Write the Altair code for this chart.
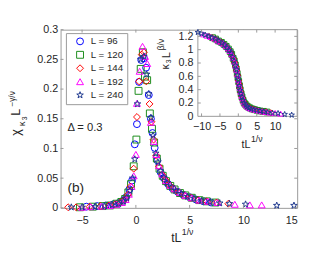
import altair as alt
import pandas as pd

labels = ["L = 96", "L = 120", "L = 144", "L = 192", "L = 240"]
colors = ["#0000ff", "#1a8c1a", "#ff0000", "#ff00ff", "#203a8f"]
STAR = ("M0,-1L0.235,-0.324L0.951,-0.309L0.38,0.124L0.588,0.809L0,0.4"
        "L-0.588,0.809L-0.38,0.124L-0.951,-0.309L-0.235,-0.324Z")
shapes = ["circle", "square", "diamond", "triangle-up", STAR]

# ---- main panel: chi_kappa3 L^(-gamma/nu) vs t L^(1/nu)
main_x_96 = [-4.6, -3.6, -2.8, -2.1, -1.6, -1.2, -0.9, -0.6, -0.35, -0.1, 0.1, 0.3, 0.5, 0.75, 0.95,
             1.2, 1.4, 1.55, 1.75, 2.0, 2.3, 2.6, 3.0, 3.4, 3.9, 4.4, 5.0, 5.6, 6.3, 7.0]
main_y_96 = [0.002, 0.003, 0.004, 0.006, 0.008, 0.012, 0.018, 0.031, 0.046, 0.107, 0.141, 0.212, 0.249,
             0.252, 0.236, 0.19, 0.15, 0.126, 0.101, 0.08, 0.06, 0.05, 0.04, 0.033, 0.027, 0.022, 0.018,
             0.014, 0.011, 0.009]
main_x_120 = [-5.2, -4.0, -3.1, -2.4, -1.8, -1.35, -1.0, -0.7, -0.45, -0.2, 0.05, 0.25, 0.45, 0.65, 0.85,
              1.05, 1.3, 1.5, 1.7, 1.95, 2.2, 2.5, 2.8, 3.2, 3.6, 4.1, 4.6, 5.2, 5.9, 6.6, 7.4]
main_y_120 = [0.001, 0.002, 0.003, 0.004, 0.007, 0.010, 0.015, 0.026, 0.040, 0.070, 0.115, 0.197, 0.234,
              0.262, 0.221, 0.215, 0.159, 0.133, 0.11, 0.083, 0.066, 0.054, 0.045, 0.037, 0.031, 0.025,
              0.021, 0.017, 0.013, 0.011, 0.009]
main_x_144 = [-6.3, -5.55, -4.3, -3.3, -2.5, -1.9, -1.45, -1.05, -0.75, -0.5, -0.2, 0.1, 0.3, 0.55, 0.75,
              0.97, 1.27, 1.45, 1.65, 1.9, 2.15, 2.45, 2.75, 3.1, 3.5, 3.95, 4.5, 5.1, 5.8, 6.6, 7.5, 8.6]
main_y_144 = [0.001, 0.001, 0.002, 0.003, 0.004, 0.006, 0.009, 0.014, 0.022, 0.036, 0.066, 0.153, 0.213,
              0.258, 0.262, 0.213, 0.175, 0.145, 0.115, 0.088, 0.07, 0.056, 0.047, 0.039, 0.032, 0.026,
              0.021, 0.017, 0.013, 0.011, 0.009, 0.007]
main_x_192 = [-5.0, -4.2, -3.2, -2.4, -1.8, -1.3, -0.95, -0.65, -0.4, -0.2, 0.0, 0.1, 0.35, 0.62, 0.85,
              1.06, 1.4, 1.67, 1.9, 2.15, 2.45, 2.8, 3.2, 3.6, 4.1, 4.6, 5.2, 5.9, 6.7, 7.6, 9.2, 10.6, 11.7]
main_y_192 = [0.001, 0.002, 0.003, 0.004, 0.006, 0.009, 0.014, 0.023, 0.036, 0.054, 0.09, 0.176, 0.23,
              0.272, 0.255, 0.243, 0.144, 0.112, 0.09, 0.071, 0.057, 0.046, 0.038, 0.032, 0.026, 0.021,
              0.017, 0.013, 0.011, 0.009, 0.006, 0.005, 0.005]
main_x_240 = [-6.0, -5.0, -3.8, -2.9, -2.2, -1.6, -1.15, -0.85, -0.55, -0.3, -0.1, 0.15, 0.45, 0.75, 1.0,
              1.2, 1.4, 1.6, 1.85, 2.05, 2.3, 2.6, 2.9, 3.3, 3.7, 4.2, 4.8, 5.4, 6.1, 6.9, 7.8, 8.7, 10.2,
              13.1, 14.7]
main_y_240 = [0.001, 0.001, 0.002, 0.003, 0.005, 0.007, 0.011, 0.017, 0.029, 0.05, 0.082, 0.175, 0.25,
              0.255, 0.225, 0.192, 0.152, 0.122, 0.092, 0.077, 0.062, 0.051, 0.042, 0.035, 0.029, 0.024,
              0.019, 0.016, 0.012, 0.010, 0.008, 0.007, 0.006, 0.004, 0.004]

# ---- inset: kappa3 L^(beta/nu) vs t L^(1/nu)
ins_x_96 = [-6, -5.2, -4.5, -3.8, -3.2, -2.6, -2.1, -1.7, -1.3, -1.0, -0.7, -0.45, -0.2, 0.0, 0.2, 0.4,
            0.6, 0.85, 1.1, 1.4, 1.7, 2.0, 2.4, 2.8, 3.3, 3.9, 4.5, 5.2, 6.0, 7.0]
ins_y_96 = [1.15, 1.12, 1.10, 1.07, 1.04, 1.00, 0.96, 0.91, 0.86, 0.81, 0.75, 0.69, 0.61, 0.55, 0.49,
            0.43, 0.37, 0.32, 0.27, 0.23, 0.19, 0.17, 0.15, 0.13, 0.12, 0.11, 0.10, 0.09, 0.08, 0.07]
ins_x_120 = [-7, -6.2, -5.4, -4.6, -3.9, -3.3, -2.7, -2.2, -1.8, -1.4, -1.1, -0.8, -0.55, -0.3, -0.1, 0.1,
             0.3, 0.5, 0.75, 1.0, 1.3, 1.6, 1.9, 2.3, 2.7, 3.2, 3.8, 4.4, 5.1, 5.9, 6.8, 7.8]
ins_y_120 = [1.18, 1.16, 1.13, 1.11, 1.08, 1.05, 1.01, 0.97, 0.93, 0.87, 0.83, 0.77, 0.71, 0.64, 0.58,
             0.52, 0.46, 0.40, 0.34, 0.29, 0.24, 0.20, 0.18, 0.155, 0.14, 0.125, 0.11, 0.10, 0.09, 0.08,
             0.075, 0.065]
ins_x_144 = [-8, -7.1, -6.2, -5.4, -4.6, -3.9, -3.2, -2.6, -2.1, -1.7, -1.3, -1.0, -0.7, -0.45, -0.2,
             0.05, 0.25, 0.45, 0.7, 0.95, 1.2, 1.5, 1.8, 2.2, 2.6, 3.1, 3.7, 4.3, 5.0, 5.8, 6.7, 7.7, 8.8]
ins_y_144 = [1.20, 1.18, 1.16, 1.13, 1.11, 1.08, 1.04, 1.00, 0.96, 0.91, 0.86, 0.81, 0.75, 0.69, 0.62,
             0.54, 0.48, 0.42, 0.36, 0.30, 0.26, 0.22, 0.19, 0.16, 0.14, 0.125, 0.11, 0.10, 0.09, 0.08,
             0.07, 0.065, 0.055]
ins_x_192 = [-9.5, -8.5, -7.5, -6.6, -5.7, -4.9, -4.1, -3.4, -2.8, -2.3, -1.8, -1.4, -1.05, -0.75, -0.5,
             -0.25, 0.0, 0.2, 0.4, 0.65, 0.9, 1.15, 1.45, 1.75, 2.1, 2.5, 3.0, 3.5, 4.1, 4.8, 5.6, 6.5,
             7.5, 8.7, 10.0, 11.5]
ins_y_192 = [1.23, 1.21, 1.19, 1.17, 1.14, 1.12, 1.09, 1.06, 1.02, 0.98, 0.93, 0.88, 0.82, 0.76, 0.70,
             0.63, 0.55, 0.49, 0.43, 0.37, 0.31, 0.27, 0.22, 0.19, 0.165, 0.145, 0.125, 0.115, 0.105,
             0.095, 0.085, 0.075, 0.065, 0.055, 0.05, 0.04]
ins_x_240 = [-11, -10, -9, -8, -7.1, -6.2, -5.3, -4.5, -3.8, -3.1, -2.5, -2.0, -1.55, -1.15, -0.8, -0.5,
             -0.25, 0.0, 0.25, 0.5, 0.75, 1.0, 1.3, 1.6, 2.0, 2.4, 2.9, 3.5, 4.2, 5.0, 5.9, 6.9, 8.0, 9.3,
             10.8, 12.6, 14.5]
ins_y_240 = [1.26, 1.24, 1.22, 1.20, 1.18, 1.16, 1.13, 1.10, 1.07, 1.03, 0.99, 0.95, 0.89, 0.83, 0.76,
             0.70, 0.62, 0.54, 0.46, 0.39, 0.34, 0.29, 0.24, 0.20, 0.17, 0.145, 0.125, 0.11, 0.10, 0.09,
             0.08, 0.07, 0.06, 0.05, 0.045, 0.03, 0.02]

main_ticks_x = [-5, 0, 5, 10, 15]
main_ticks_y = [0, 0.05, 0.1, 0.15, 0.2, 0.25, 0.3]
ins_ticks_x = [-10, -5, 0, 5, 10]
ins_ticks_y = [0, 0.2, 0.4, 0.6, 0.8, 1.0, 1.2]


def build(xs_list, ys_list):
    rows = []
    for lab, xs, ys in zip(labels, xs_list, ys_list):
        for a, b in zip(xs, ys):
            rows.append({"x": a, "y": b, "L": lab})
    return pd.DataFrame(rows)


df_main = build([main_x_96, main_x_120, main_x_144, main_x_192, main_x_240],
                [main_y_96, main_y_120, main_y_144, main_y_192, main_y_240])
df_ins = build([ins_x_96, ins_x_120, ins_x_144, ins_x_192, ins_x_240],
               [ins_y_96, ins_y_120, ins_y_144, ins_y_192, ins_y_240])

FONT = "Liberation Sans"
TXT = "#262626"
FRAME = "#999999"
W, H = 243, 183
TK = 3  # inward tick length

color_scale = alt.Scale(domain=labels, range=colors)
shape_scale = alt.Scale(domain=labels, range=shapes)

legend = alt.Legend(title=None, orient="none", legendX=5.5, legendY=3.5, fillColor="white",
                    strokeColor=FRAME, padding=3.5, rowPadding=1.8, labelFontSize=10,
                    labelFont=FONT, labelColor=TXT, symbolSize=50, symbolStrokeWidth=1,
                    symbolOffset=6, labelOffset=6)

main_X = alt.X("x:Q", scale=alt.Scale(domain=[-7, 15], nice=False, zero=False),
               axis=alt.Axis(orient="bottom", values=main_ticks_x, title=None, domain=False,
                             grid=False, tickSize=0, labelPadding=7))
main_Y = alt.Y("y:Q", scale=alt.Scale(domain=[0, 0.3], nice=False, zero=False),
               axis=alt.Axis(orient="left", values=main_ticks_y, format="~g", title=None,
                             domain=False, grid=False, tickSize=0, labelPadding=3))

main_pts = alt.Chart(df_main).mark_point(filled=False, size=50, strokeWidth=1, opacity=1).encode(
    x=main_X, y=main_Y,
    color=alt.Color("L:N", scale=color_scale, legend=legend),
    shape=alt.Shape("L:N", scale=shape_scale, legend=legend),
)

mtx = pd.DataFrame({"x": main_ticks_x})
mty = pd.DataFrame({"y": main_ticks_y})
main_ticks = [
    alt.Chart(mtx).mark_rule(color=FRAME).encode(x=main_X, y=alt.value(H), y2=alt.value(H - TK)),
    alt.Chart(mtx).mark_rule(color=FRAME).encode(x=main_X, y=alt.value(0), y2=alt.value(TK)),
    alt.Chart(mty).mark_rule(color=FRAME).encode(y=main_Y, x=alt.value(0), x2=alt.value(TK)),
    alt.Chart(mty).mark_rule(color=FRAME).encode(y=main_Y, x=alt.value(W), x2=alt.value(W - TK)),
]
main = alt.layer(main_pts, *main_ticks)

IX0, IX1, IY0, IY1 = 141, 243, 89, 0
ins_X = alt.X("x:Q", scale=alt.Scale(domain=[-11, 16], range=[IX0, IX1], nice=False, zero=False),
              axis=alt.Axis(orient="bottom", offset=IY0 - H, values=ins_ticks_x, title=None,
                            domain=False, grid=False, tickSize=0, labelPadding=5))
ins_Y = alt.Y("y:Q", scale=alt.Scale(domain=[0, 1.3], range=[IY0, IY1], nice=False, zero=False),
              axis=alt.Axis(orient="left", offset=-IX0, values=ins_ticks_y, format="~g", title=None,
                            domain=False, grid=False, tickSize=0, labelPadding=5))

frame_df = pd.DataFrame({"x": [-11], "x2": [16], "y": [0], "y2": [1.3]})
ins_frame = alt.Chart(frame_df).mark_rect(fill="white", stroke=FRAME, strokeWidth=1).encode(
    x=ins_X, x2="x2:Q", y=ins_Y, y2="y2:Q")
ins_pts = alt.Chart(df_ins).mark_point(filled=False, size=35, strokeWidth=1, opacity=1).encode(
    x=ins_X, y=ins_Y,
    color=alt.Color("L:N", scale=color_scale, legend=None),
    shape=alt.Shape("L:N", scale=shape_scale, legend=None),
)
itx = pd.DataFrame({"x": ins_ticks_x})
ity = pd.DataFrame({"y": ins_ticks_y[1:]})
ins_ticks = [
    alt.Chart(itx).mark_rule(color=FRAME).encode(x=ins_X, y=alt.value(IY0), y2=alt.value(IY0 - TK)),
    alt.Chart(itx).mark_rule(color=FRAME).encode(x=ins_X, y=alt.value(IY1), y2=alt.value(IY1 + TK)),
    alt.Chart(ity).mark_rule(color=FRAME).encode(y=ins_Y, x=alt.value(IX0), x2=alt.value(IX0 + TK)),
    alt.Chart(ity).mark_rule(color=FRAME).encode(y=ins_Y, x=alt.value(IX1), x2=alt.value(IX1 - TK)),
]
inset = alt.layer(ins_frame, ins_pts, *ins_ticks)

dummy = pd.DataFrame({"a": [0]})


def txt(s, x, y, size, angle=0, align="left", baseline="alphabetic"):
    return alt.Chart(dummy).mark_text(align=align, baseline=baseline, fontSize=size, angle=angle,
                                      font=FONT, color=TXT).encode(
        x=alt.value(x), y=alt.value(y), text=alt.value(s))


texts = [
    txt("Δ = 0.3", 7, 101, 11.5, baseline="middle"),
    txt("(b)", 7, 163, 14, baseline="middle"),
    # main x title
    txt("tL", 124, 218, 12.5, align="right"),
    txt("1/ν", 124.5, 210.5, 9),
    # main y title (rotated)
    txt("χ", -41.5, 109, 13, angle=270),
    txt("κ", -36.5, 99, 9, angle=270),
    txt("3", -34.5, 93, 7, angle=270),
    txt("L", -41.5, 88.5, 13, angle=270),
    txt("−γ/ν", -47, 79, 8.5, angle=270),
    # inset x title
    txt("tL", 195, 121.5, 11, align="right"),
    txt("1/ν", 195.5, 115, 9),
    # inset y title (rotated)
    txt("κ", 111, 41, 11, angle=270),
    txt("3", 113.5, 34.5, 7, angle=270),
    txt("L", 112, 29, 11, angle=270),
    txt("β/ν", 106.5, 21, 8.5, angle=270),
]

chart = alt.layer(main, inset, *texts).resolve_scale(
    x="independent", y="independent"
).properties(
    width=W, height=H,
    autosize=alt.AutoSizeParams(type="none"),
    padding={"left": 54, "top": 19, "right": 7, "bottom": 40},
).configure_view(stroke=FRAME, strokeWidth=1).configure_axis(
    labelFont=FONT, labelFontSize=11, labelColor=TXT
)

chart.save("out.html", embed_options={"renderer": "svg", "actions": False})
